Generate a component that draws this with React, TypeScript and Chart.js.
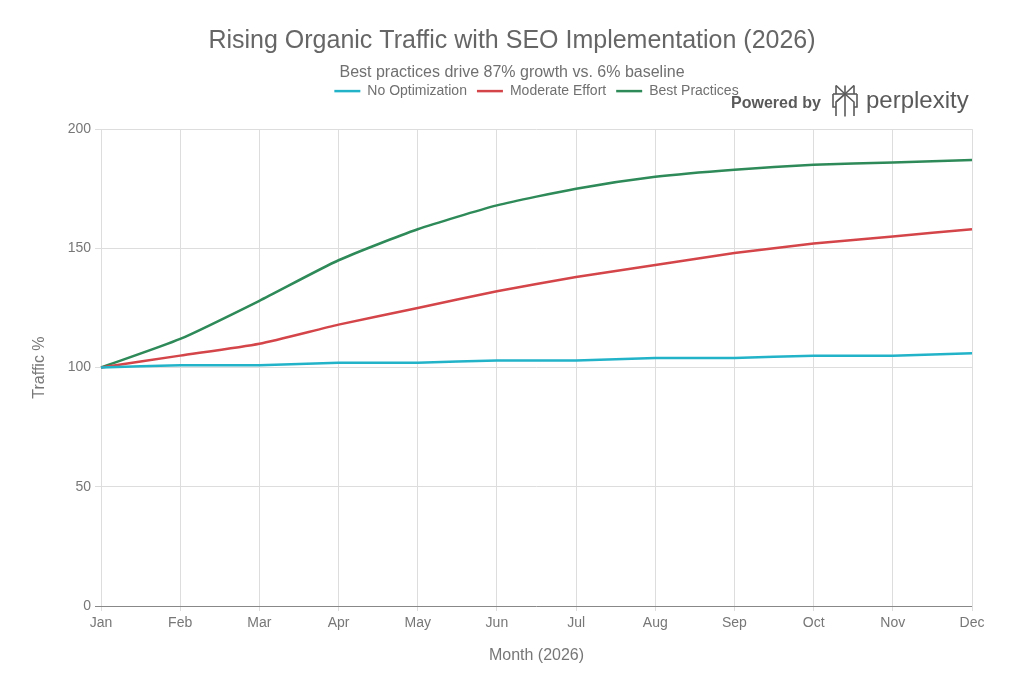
import React, { useEffect, useRef } from "react";
import { Chart, registerables } from "chart.js";

Chart.register(...registerables);

const months = ["Jan", "Feb", "Mar", "Apr", "May", "Jun", "Jul", "Aug", "Sep", "Oct", "Nov", "Dec"];
const noOptimization = [100, 101, 101, 102, 102, 103, 103, 104, 104, 105, 105, 106];
const moderateEffort = [100, 105, 110, 118, 125, 132, 138, 143, 148, 152, 155, 158];
const bestPractices = [100, 112, 128, 145, 158, 168, 175, 180, 183, 185, 186, 187];
const yTicks = [0, 50, 100, 150, 200];

const FONT = "'Liberation Sans', Arial, Helvetica, sans-serif";

export default function App() {
  const ref = useRef<HTMLCanvasElement | null>(null);

  useEffect(() => {
    document.body.style.margin = "0";
    const canvas = ref.current;
    if (!canvas) return;
    const chart = new Chart(canvas, {
      type: "line",
      data: {
        labels: months,
        datasets: [
          { label: "No Optimization", data: noOptimization, borderColor: "#22b3c9", backgroundColor: "#22b3c9", borderWidth: 2.5, pointRadius: 0, tension: 0.2 },
          { label: "Moderate Effort", data: moderateEffort, borderColor: "#d4454a", backgroundColor: "#d4454a", borderWidth: 2.5, pointRadius: 0, tension: 0.2 },
          { label: "Best Practices", data: bestPractices, borderColor: "#2e8a58", backgroundColor: "#2e8a58", borderWidth: 2.5, pointRadius: 0, tension: 0.2 },
        ],
      },
      options: {
        animation: false,
        responsive: false,
        devicePixelRatio: 1,
        layout: { padding: 0 },
        plugins: {
          title: {
            display: true,
            text: "Rising Organic Traffic with SEO Implementation (2026)",
            color: "#666666",
            font: { family: FONT, size: 25, weight: "normal" },
            padding: { top: 26.5, bottom: 6 },
          },
          subtitle: {
            display: true,
            text: "Best practices drive 87% growth vs. 6% baseline",
            color: "#707070",
            font: { family: FONT, size: 16, weight: "normal" },
            padding: { top: 0, bottom: -7.6 },
          },
          legend: {
            display: true,
            position: "top",
            fullSize: false,
            labels: {
              usePointStyle: true,
              pointStyle: "line",
              pointStyleWidth: 26,
              boxHeight: 14,
              color: "#707070",
              font: { family: FONT, size: 14 },
              padding: 10,
            },
          },
          tooltip: { enabled: false },
        },
        scales: {
          x: {
            type: "category",
            offset: false,
            grid: { color: "#dddddd", tickLength: 5, drawTicks: true },
            border: { display: false },
            ticks: { color: "#777777", font: { family: FONT, size: 14 }, padding: 4, maxRotation: 0, autoSkip: false },
            title: { display: true, text: "Month (2026)", color: "#777777", font: { family: FONT, size: 16 }, padding: { top: 0, bottom: 18 } },
            afterFit: (s: any) => { s.height = 77; },
          },
          xTop: {
            type: "category",
            position: "top",
            grid: { display: false, drawTicks: false },
            border: { display: false },
            ticks: { display: false },
            afterFit: (s: any) => { s.height = 21; },
          },
          y: {
            min: 0,
            max: 200,
            afterBuildTicks: (s: any) => { s.ticks = yTicks.map((v) => ({ value: v })); },
            grid: {
              color: (c: any) => (c.tick && c.tick.value === 0 ? "#888888" : "#dddddd"),
              tickLength: 6,
            },
            border: { display: false },
            ticks: { color: "#777777", font: { family: FONT, size: 14 }, padding: 4 },
            title: { display: true, text: "Traffic %", color: "#777777", font: { family: FONT, size: 16 }, padding: { top: 30, bottom: 0 } },
            afterFit: (s: any) => { s.width = 101; },
          },
          yRight: {
            type: "linear",
            position: "right",
            grid: { display: false, drawTicks: false },
            border: { display: false },
            ticks: { display: false },
            afterFit: (s: any) => { s.width = 52; },
          },
        },
      },
    });
    return () => chart.destroy();
  }, []);

  return (
    <div style={{ position: "relative", width: 1024, height: 683, background: "#ffffff" }}>
      <canvas ref={ref} width={1024} height={683} style={{ display: "block" }} />
      <div
        style={{
          position: "absolute",
          left: 731,
          top: 93,
          fontFamily: FONT,
          fontSize: 16,
          fontWeight: "bold",
          lineHeight: "20px",
          color: "#5a5a5a",
          whiteSpace: "nowrap",
        }}
      >
        Powered by
      </div>
      <svg width="26" height="32" viewBox="0 0 26 32" style={{ position: "absolute", left: 832, top: 85 }}>
        <g stroke="#5a5a5a" strokeWidth="1.6" fill="none" strokeLinejoin="miter">
          <line x1="13" y1="0.5" x2="13" y2="31.5" />
          <polyline points="4,0.5 13,9 22,0.5" />
          <polyline points="4,0.5 4,9" />
          <polyline points="22,0.5 22,9" />
          <line x1="1" y1="9" x2="25" y2="9" />
          <polyline points="1,9 1,22 4,22" />
          <polyline points="25,9 25,22 22,22" />
          <polyline points="4,31 4,17 13,9 22,17 22,31" />
          <polyline points="4,17 13,9" />
        </g>
      </svg>
      <div
        style={{
          position: "absolute",
          left: 866,
          top: 86,
          fontFamily: FONT,
          fontSize: 24,
          lineHeight: "28px",
          color: "#5a5a5a",
          whiteSpace: "nowrap",
        }}
      >
        perplexity
      </div>
    </div>
  );
}
